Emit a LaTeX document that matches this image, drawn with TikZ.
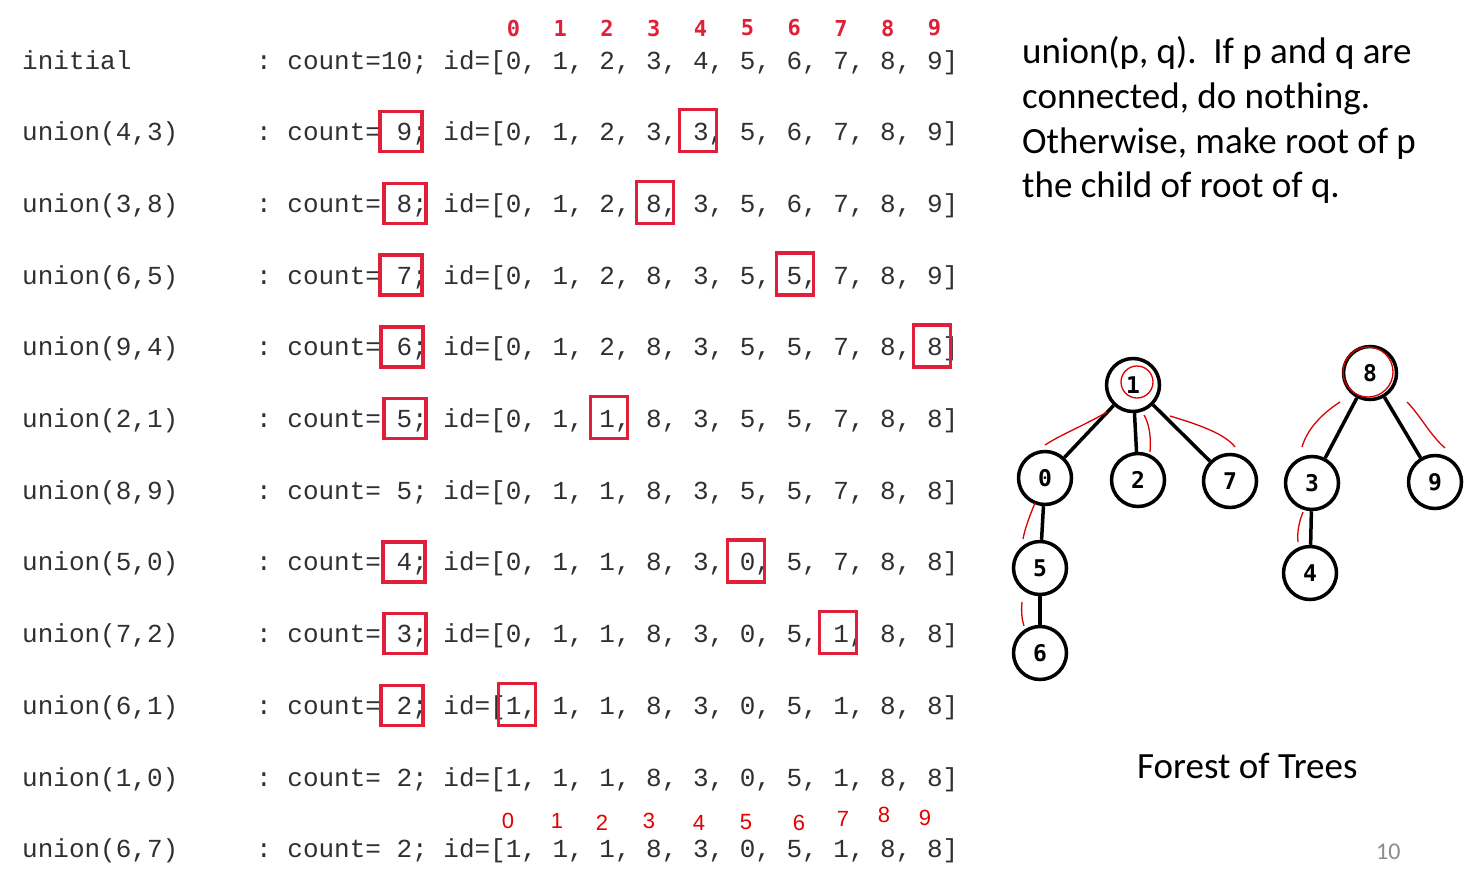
\documentclass[tikz,border=0pt]{standalone}
\usepackage{fontspec}
\usepackage{xcolor}
\usepackage{tikz}
\usetikzlibrary{positioning}
\newfontfamily\codefont{Liberation Mono}
\newfontfamily\idxfont{DejaVu Sans Mono}
\newfontfamily\handfont{Liberation Sans}
\newfontfamily\slidefont{Carlito}
\definecolor{boxred}{HTML}{E0203A}
\definecolor{codegray}{HTML}{303030}
\frenchspacing

\begin{document}
\begin{tikzpicture}[x=1pt, y=-1pt,
    % styles
    codeline/.style={anchor=base west, inner sep=0pt, text=codegray, font=\codefont\fontsize{26}{30}\selectfont},
    countbox/.style={draw=boxred, line width=3.5pt, minimum width=42pt, minimum height=40pt, inner sep=0pt},
    idbox/.style={draw=boxred, line width=3.5pt, minimum width=37pt, minimum height=42pt, inner sep=0pt},
    idxlabel/.style={text=boxred, inner sep=0pt, font=\idxfont\bfseries\fontsize{22}{24}\selectfont},
    handlabel/.style={text=red!90!black, inner sep=0pt, font=\handfont\fontsize{22}{24}\selectfont},
    treenode/.style={circle, draw=black, line width=3.5pt, minimum size=53pt, inner sep=0pt, font=\idxfont\bfseries\fontsize{23}{25}\selectfont},
    treeedge/.style={draw=black, line width=3.5pt},
    markup/.style={draw=red!85!black, line width=1.3pt},
    slidetext/.style={anchor=base west, inner sep=0pt, font=\slidefont\fontsize{37}{42}\selectfont},
    ]
    \fill[white] (0,0) rectangle (1482,886);
    \useasboundingbox (0,0) rectangle (1482,886);

    % index header
    \foreach \i in {0,...,9}
        \node[idxlabel] (top\i) at ({513.4+46.8*\i},28) {\i};

    % trace rows
    \node[codeline] (l0)  at (22,69)    {initial};
    \node[codeline] (c0)  at (256,69)   {: count=10; id=[0, 1, 2, 3, 4, 5, 6, 7, 8, 9]};
    \node[codeline] (l1)  at (22,140.7) {union(4,3)};
    \node[codeline] (c1)  at (256,140.7) {: count=~9; id=[0, 1, 2, 3, 3, 5, 6, 7, 8, 9]};
    \node[codeline] (l2)  at (22,212.4) {union(3,8)};
    \node[codeline] (c2)  at (256,212.4) {: count=~8; id=[0, 1, 2, 8, 3, 5, 6, 7, 8, 9]};
    \node[codeline] (l3)  at (22,284.1) {union(6,5)};
    \node[codeline] (c3)  at (256,284.1) {: count=~7; id=[0, 1, 2, 8, 3, 5, 5, 7, 8, 9]};
    \node[codeline] (l4)  at (22,355.8) {union(9,4)};
    \node[codeline] (c4)  at (256,355.8) {: count=~6; id=[0, 1, 2, 8, 3, 5, 5, 7, 8, 8]};
    \node[codeline] (l5)  at (22,427.5) {union(2,1)};
    \node[codeline] (c5)  at (256,427.5) {: count=~5; id=[0, 1, 1, 8, 3, 5, 5, 7, 8, 8]};
    \node[codeline] (l6)  at (22,499.2) {union(8,9)};
    \node[codeline] (c6)  at (256,499.2) {: count=~5; id=[0, 1, 1, 8, 3, 5, 5, 7, 8, 8]};
    \node[codeline] (l7)  at (22,570.9) {union(5,0)};
    \node[codeline] (c7)  at (256,570.9) {: count=~4; id=[0, 1, 1, 8, 3, 0, 5, 7, 8, 8]};
    \node[codeline] (l8)  at (22,642.6) {union(7,2)};
    \node[codeline] (c8)  at (256,642.6) {: count=~3; id=[0, 1, 1, 8, 3, 0, 5, 1, 8, 8]};
    \node[codeline] (l9)  at (22,714.3) {union(6,1)};
    \node[codeline] (c9)  at (256,714.3) {: count=~2; id=[1, 1, 1, 8, 3, 0, 5, 1, 8, 8]};
    \node[codeline] (l10) at (22,786)   {union(1,0)};
    \node[codeline] (c10) at (256,786)  {: count=~2; id=[1, 1, 1, 8, 3, 0, 5, 1, 8, 8]};
    \node[codeline] (l11) at (22,857.7) {union(6,7)};
    \node[codeline] (c11) at (256,857.7) {: count=~2; id=[1, 1, 1, 8, 3, 0, 5, 1, 8, 8]};

    % red boxes on count
    \node[countbox] (cb1) at (401,131.7) {};
    \node[countbox] (cb2) at (405,203.4) {};
    \node[countbox] (cb3) at (401,275.1) {};
    \node[countbox] (cb4) at (402,346.8) {};
    \node[countbox] (cb5) at (405,418.5) {};
    \node[countbox] (cb7) at (404,561.9) {};
    \node[countbox] (cb8) at (405,633.6) {};
    \node[countbox] (cb9) at (402,705.3) {};

    % red boxes on changed id entries
    \node[idbox] (ib1) at (698,130.7) {};
    \node[idbox] (ib2) at (655,202.4) {};
    \node[idbox] (ib3) at (795,274.1) {};
    \node[idbox] (ib4) at (932,345.8) {};
    \node[idbox] (ib5) at (609,417.5) {};
    \node[idbox] (ib7) at (746,560.9) {};
    \node[idbox] (ib8) at (838,632.6) {};
    \node[idbox] (ib9) at (517,704.3) {};

    % hand written index
    \foreach \i/\x/\y in {0/508/821, 1/557/821, 2/602/823, 3/649/821, 4/699/823,
                          5/746/822, 6/799/823, 7/843/819, 8/884/815, 9/925/818}
        \node[handlabel] (hand\i) at (\x,\y) {\i};

    % slide text
    \node[slidetext] (rule1) at (1022,63)  {union(p, q).\ \ If p and q are};
    \node[slidetext] (rule2) at (1022,108) {connected, do nothing.};
    \node[slidetext] (rule3) at (1022,153) {Otherwise, make root of p};
    \node[slidetext] (rule4) at (1022,197) {the child of root of q.};
    \node[slidetext] (forest) at (1137,778) {Forest of Trees};
    \node[slidetext, text=black!45, font=\slidefont\fontsize{24}{26}\selectfont] (pageno) at (1376,859) {10};

    % forest nodes
    \node[treenode] (n1) at (1133,385) {1};
    \node[treenode] (n8) at (1370,373) {8};
    \node[treenode] (n0) at (1045,478) {0};
    \node[treenode] (n2) at (1138,480) {2};
    \node[treenode] (n7) at (1230,481) {7};
    \node[treenode] (n3) at (1312,483) {3};
    \node[treenode] (n9) at (1435,482) {9};
    \node[treenode] (n5) at (1040,568) {5};
    \node[treenode] (n6) at (1040,653) {6};
    \node[treenode] (n4) at (1310,573) {4};

    % forest edges
    \draw[treeedge] (n1) -- (n0);
    \draw[treeedge] (n1) -- (n2);
    \draw[treeedge] (n1) -- (n7);
    \draw[treeedge] (n0) -- (n5);
    \draw[treeedge] (n5) -- (n6);
    \draw[treeedge] (n8) -- (n3);
    \draw[treeedge] (n8) -- (n9);
    \draw[treeedge] (n3) -- (n4);

    % red pen marks
    \draw[markup] (1137,382) circle (16);
    \draw[markup] (1368,372) circle (25);
    \draw[markup] (1107,412) .. controls (1085,425) and (1060,435) .. (1045,445);
    \draw[markup] (1144,415) .. controls (1150,425) and (1151,440) .. (1150,452);
    \draw[markup] (1170,416) .. controls (1200,425) and (1225,434) .. (1235,447);
    \draw[markup] (1340,402) .. controls (1320,415) and (1307,430) .. (1302,447);
    \draw[markup] (1407,402) .. controls (1420,415) and (1430,435) .. (1445,448);
    \draw[markup] (1035,503) .. controls (1030,515) and (1025,528) .. (1023,539);
    \draw[markup] (1022,602) .. controls (1021,612) and (1022,620) .. (1024,626);
    \draw[markup] (1303,512) .. controls (1299,522) and (1297,532) .. (1298,542);
\end{tikzpicture}
\end{document}
